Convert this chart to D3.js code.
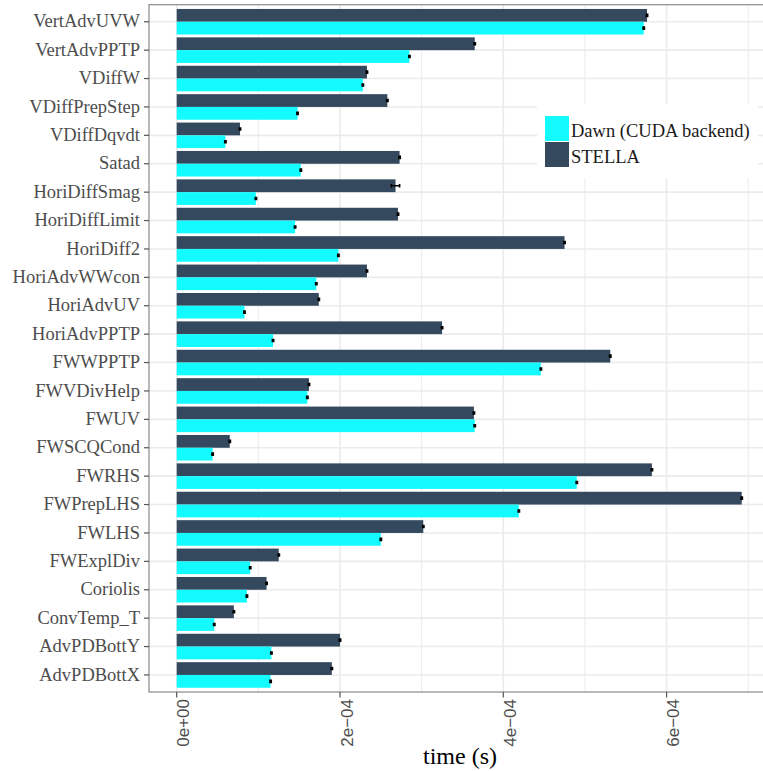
<!DOCTYPE html>
<html>
<head>
<meta charset="utf-8">
<script src="https://cdn.jsdelivr.net/npm/d3@7"></script>
<style>
    body { margin: 0; background: #fff; }
    .grid line { stroke: #ebebeb; }
    .ylab { font-family: "Liberation Serif", "Times New Roman", serif; font-size: 18.5px; fill: #4d4d4d; }
    .xlab { font-family: "Liberation Sans", Arial, sans-serif; font-size: 17px; fill: #4d4d4d; }
    .legendText { font-family: "Liberation Serif", "Times New Roman", serif; font-size: 18.5px; fill: #1a1a1a; }
    .title { font-family: "Liberation Serif", "Times New Roman", serif; font-size: 24px; fill: #000; }
</style>
</head>
<body>
<div id="chart"></div>
<script>
const width = 763
const height = 771

// data (seconds)
const kernels = ['VertAdvUVW', 'VertAdvPPTP', 'VDiffW', 'VDiffPrepStep', 'VDiffDqvdt', 'Satad',
    'HoriDiffSmag', 'HoriDiffLimit', 'HoriDiff2', 'HoriAdvWWcon', 'HoriAdvUV', 'HoriAdvPPTP',
    'FWWPPTP', 'FWVDivHelp', 'FWUV', 'FWSCQCond', 'FWRHS', 'FWPrepLHS', 'FWLHS', 'FWExplDiv',
    'Coriolis', 'ConvTemp_T', 'AdvPDBottY', 'AdvPDBottX']
const stella = [5.76e-4, 3.65e-4, 2.33e-4, 2.58e-4, 0.775e-4, 2.73e-4,
    2.68e-4, 2.71e-4, 4.75e-4, 2.33e-4, 1.74e-4, 3.25e-4,
    5.31e-4, 1.62e-4, 3.64e-4, 0.65e-4, 5.82e-4, 6.92e-4, 3.02e-4, 1.25e-4,
    1.10e-4, 0.70e-4, 2.00e-4, 1.90e-4]
const dawn = [5.72e-4, 2.85e-4, 2.28e-4, 1.48e-4, 0.596e-4, 1.52e-4,
    0.97e-4, 1.45e-4, 1.98e-4, 1.71e-4, 0.83e-4, 1.18e-4,
    4.46e-4, 1.60e-4, 3.65e-4, 0.44e-4, 4.90e-4, 4.19e-4, 2.50e-4, 0.90e-4,
    0.86e-4, 0.46e-4, 1.16e-4, 1.15e-4]
const stellaErr = [0.008e-4, 0.008e-4, 0.008e-4, 0.008e-4, 0.008e-4, 0.008e-4,
    0.05e-4, 0.008e-4, 0.008e-4, 0.008e-4, 0.008e-4, 0.008e-4,
    0.008e-4, 0.008e-4, 0.008e-4, 0.008e-4, 0.008e-4, 0.008e-4, 0.008e-4, 0.008e-4,
    0.008e-4, 0.008e-4, 0.008e-4, 0.008e-4]
const dawnErr = kernels.map(() => 0.008e-4)
const series = ['STELLA', 'Dawn (CUDA backend)']
const colors = ['#34495e', '#14fbff']
const majorTicks = [0, 2e-4, 4e-4, 6e-4]
const minorTicks = [1e-4, 3e-4, 5e-4, 7e-4]
const tickLabels = ['0e+00', '2e\u221204', '4e\u221204', '6e\u221204']

const panel = { left: 149, top: 4.7, right: 772, bottom: 692 }

let svg = d3.select('#chart').append('svg').attr('width', width).attr('height', height)

let x = d3.scaleLinear().domain([0, 7e-4]).range([176.7, 176.7 + 7 * 81.65])
let y = d3.scaleBand().domain(kernels).range([panel.top, panel.bottom]).paddingInner(0.1).paddingOuter(0.15)
let ySub = d3.scaleBand().domain(series).range([0, y.bandwidth()])
let color = d3.scaleOrdinal().domain(series).range(colors)

// grid
let grid = svg.append('g').attr('class', 'grid')
grid.selectAll('line.minor').data(minorTicks).enter().append('line')
    .attr('class', 'minor')
    .attr('x1', d => x(d)).attr('x2', d => x(d))
    .attr('y1', panel.top).attr('y2', panel.bottom)
    .attr('stroke-width', 1)
grid.selectAll('line.major').data(majorTicks).enter().append('line')
    .attr('class', 'major')
    .attr('x1', d => x(d)).attr('x2', d => x(d))
    .attr('y1', panel.top).attr('y2', panel.bottom)
    .attr('stroke-width', 1.6)
grid.selectAll('line.hmajor').data(kernels).enter().append('line')
    .attr('class', 'hmajor')
    .attr('x1', panel.left).attr('x2', panel.right)
    .attr('y1', d => y(d) + y.bandwidth() / 2).attr('y2', d => y(d) + y.bandwidth() / 2)
    .attr('stroke-width', 1.6)

// bars
const rows = kernels.map((k, i) => ({
    kernel: k,
    values: [
        { s: series[0], v: stella[i], e: stellaErr[i] },
        { s: series[1], v: dawn[i], e: dawnErr[i] }
    ]
}))

let elementGroup = svg.append('g').attr('id', 'elementGroup')
let groups = elementGroup.selectAll('g.barItem').data(rows).enter().append('g')
    .attr('class', 'barItem')
    .attr('transform', d => `translate(0, ${y(d.kernel)})`)

groups.selectAll('rect').data(d => d.values).enter().append('rect')
    .attr('x', x(0))
    .attr('y', d => ySub(d.s))
    .attr('width', d => x(d.v) - x(0))
    .attr('height', ySub.bandwidth())
    .attr('fill', d => color(d.s))

// error bars
let err = groups.selectAll('g.err').data(d => d.values).enter().append('g')
    .attr('class', 'err')
    .attr('transform', d => `translate(0, ${ySub(d.s) + ySub.bandwidth() / 2})`)
err.append('path')
    .attr('d', d => {
        let a = x(d.v - d.e), b = x(d.v + d.e)
        return `M${a},-1.8V1.8M${a},0H${b}M${b},-1.8V1.8`
    })
    .attr('stroke', '#000')
    .attr('stroke-width', 1.6)
    .attr('fill', 'none')

// panel border
svg.append('rect')
    .attr('x', panel.left).attr('y', panel.top)
    .attr('width', panel.right - panel.left).attr('height', panel.bottom - panel.top)
    .attr('fill', 'none').attr('stroke', '#8a8a8a').attr('stroke-width', 1.2)

// y axis
let yAxisGroup = svg.append('g').attr('id', 'yAxisGroup')
let yTicks = yAxisGroup.selectAll('g').data(kernels).enter().append('g')
    .attr('transform', d => `translate(${panel.left}, ${y(d) + y.bandwidth() / 2})`)
yTicks.append('line').attr('x1', -5).attr('x2', 0).attr('stroke', '#555').attr('stroke-width', 1.2)
yTicks.append('text').attr('class', 'ylab')
    .attr('x', -9).attr('dy', '0.3em').attr('text-anchor', 'end')
    .text(d => d)

// x axis
let xAxisGroup = svg.append('g').attr('id', 'xAxisGroup')
let xTicks = xAxisGroup.selectAll('g').data(majorTicks).enter().append('g')
    .attr('transform', d => `translate(${x(d)}, ${panel.bottom})`)
xTicks.append('line').attr('y1', 0).attr('y2', 5.5).attr('stroke', '#555').attr('stroke-width', 1.2)
xTicks.append('text').attr('class', 'xlab')
    .attr('transform', `translate(12.5, 7) rotate(-90)`)
    .attr('text-anchor', 'end')
    .text((d, i) => tickLabels[i])

svg.append('text').attr('class', 'title')
    .attr('x', 460).attr('y', 764).attr('text-anchor', 'middle')
    .text('time (s)')

// legend
let legend = svg.append('g').attr('id', 'legend')
legend.append('rect').attr('x', 537).attr('y', 104).attr('width', 221).attr('height', 74).attr('fill', '#fff')
const legendOrder = [series[1], series[0]]
let items = legend.selectAll('g.item').data(legendOrder).enter().append('g')
    .attr('class', 'item')
    .attr('transform', (d, i) => `translate(545, ${116 + i * 26})`)
items.append('rect').attr('width', 24).attr('height', 25).attr('fill', d => color(d))
items.append('text').attr('class', 'legendText')
    .attr('x', 26).attr('y', 20.5)
    .text(d => d)
</script>
</body>
</html>
